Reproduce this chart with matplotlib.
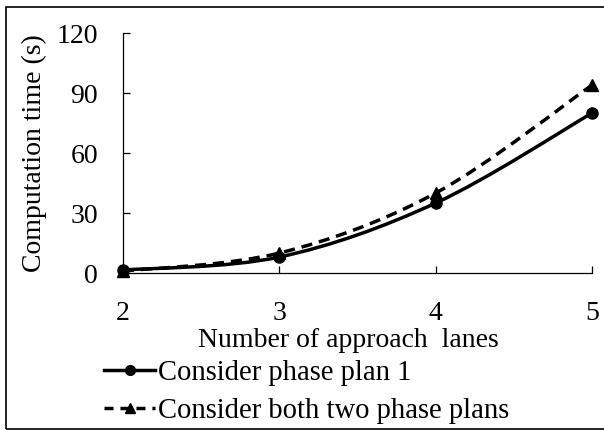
import matplotlib
matplotlib.use("Agg")
import matplotlib.pyplot as plt
import numpy as np
from matplotlib.lines import Line2D
from matplotlib.patches import PathPatch, Rectangle
from matplotlib.path import Path

plt.rcParams["font.family"] = ["Liberation Serif", "DejaVu Serif"]
plt.rcParams["font.size"] = 20

lanes = [2, 3, 4, 5]
time_plan1 = [1.5, 8, 35, 80]
time_both = [1, 10, 40, 94]
labels = ["Consider phase plan 1", "Consider both two phase plans"]


def smooth_path(xs, ys):
    # Catmull-Rom style Bezier segments through every point
    p = np.column_stack([xs, ys]).astype(float)
    n = len(p)
    verts = [p[0]]
    codes = [Path.MOVETO]
    for i in range(n - 1):
        p0 = p[max(i - 1, 0)]
        p1 = p[i]
        p2 = p[i + 1]
        p3 = p[min(i + 2, n - 1)]
        c1 = p1 + (p2 - p0) / 6
        c2 = p2 - (p3 - p1) / 6
        verts += [c1, c2, p2]
        codes += [Path.CURVE4] * 3
    return Path(verts, codes)


fig = plt.figure(figsize=(6.04, 4.30), dpi=100)
ax = fig.add_axes([0.2036, 0.365, 0.7765, 0.558])

lw = 2.5
dash = (0, (3.2, 2.0))
ax.add_patch(PathPatch(smooth_path(lanes, time_plan1), fill=False,
                       edgecolor="black", lw=lw, clip_on=False))
ax.add_patch(PathPatch(smooth_path(lanes, time_both), fill=False,
                       edgecolor="black", lw=lw, linestyle=dash,
                       clip_on=False))
ax.plot(lanes, time_plan1, "o", color="black", ms=8, clip_on=False, zorder=3)
ax.plot(lanes, time_both, "^", color="black", ms=8.5, clip_on=False, zorder=3)

ax.set_xlim(2, 5)
ax.set_ylim(0, 120)
ax.set_xticks(lanes)
ax.set_yticks([0, 30, 60, 90, 120])
ax.spines["top"].set_visible(False)
ax.spines["right"].set_visible(False)
for s in ("left", "bottom"):
    ax.spines[s].set_linewidth(0.9)
ax.tick_params(axis="both", direction="in", length=5, width=0.9)
ax.tick_params(axis="x", pad=20)
ax.tick_params(axis="y", pad=18)
ax.set_xlabel("Number of approach  lanes")
ax.xaxis.set_label_coords(0.48, -0.228)
ax.set_ylabel("Computation time (s)", labelpad=7)

handles = [
    Line2D([], [], color="black", lw=lw, marker="o", ms=7),
    Line2D([], [], color="black", lw=lw, linestyle=(0, (2.6, 2.0)),
           marker="^", ms=7),
]
fig.legend(handles, labels, loc="upper left", bbox_to_anchor=(0.173, 0.162),
           frameon=False, handlelength=1.75, handletextpad=0.12,
           labelspacing=0.42, borderpad=0, borderaxespad=0,
           fontsize=20.6)

# outer frame of the chart area, open on the right
fig.patches.append(Rectangle((6 / 604, 1 - 429 / 430), 1.2, 422 / 430,
                             transform=fig.transFigure, fill=False,
                             edgecolor="black", lw=1.2))

fig.savefig("out.png", dpi=100)
